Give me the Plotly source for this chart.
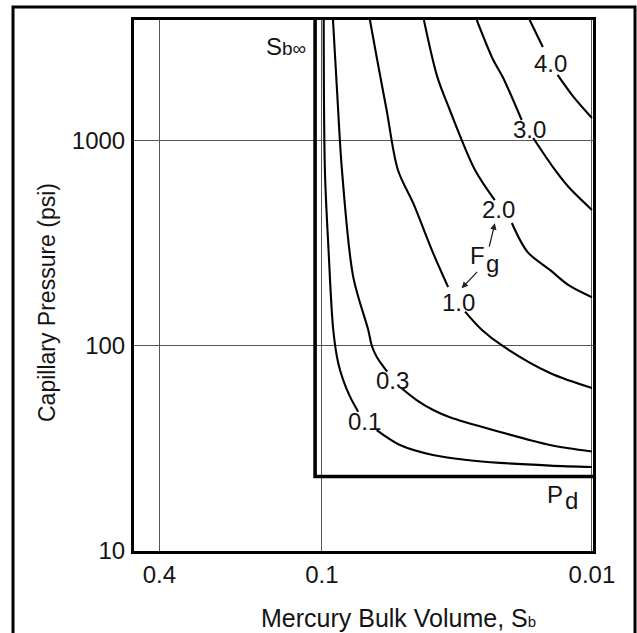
import numpy as np
import plotly.graph_objects as go

# ---- Thomeer hyperbolas: mercury bulk volume vs capillary pressure ----
SB_INF = 0.106   # asymptotic bulk volume occupied by mercury
PD = 23.1        # extrapolated displacement pressure, psi

X_TICKS = [0.4, 0.1, 0.01]
X_TICK_TEXT = ["0.4", "0.1", "0.01"]
Y_TICKS = [10, 100, 1000]
Y_TICK_TEXT = ["10", "100", "1000"]

# Curves, one per pore geometrical factor Fg (None = gap under the label)
SB_F01 = [0.0985, 0.0975, 0.0945, 0.0908, 0.0870, 0.0834, 0.0787, 0.0734, None,
          0.0627, 0.0514, 0.0388, 0.0290, 0.0219, 0.0143, 0.0100]
PC_F01 = [3890, 722, 294, 120, 82.3, 68.2, 56.6, 47.8, None,
          38.9, 32.9, 29.4, 27.8, 26.9, 26.1, 25.7]

SB_F03 = [0.0910, 0.0878, 0.0843, 0.0766, 0.0674, 0.0653, 0.0627, 0.0592, 0.0573, None,
          0.0507, 0.0446, 0.0387, 0.0336, 0.0219, 0.0143, 0.0100]
PC_F03 = [3890, 1714, 722, 218, 120, 100, 88.7, 79.3, 74.9, None,
          62.2, 54.5, 48.7, 44.9, 38.1, 32.9, 30.6]

SB_F10 = [0.0664, 0.0624, 0.0576, 0.0523, 0.0459, 0.0387, 0.0341, None,
          0.0295, 0.0256, 0.0214, 0.0143, 0.0100]
PC_F10 = [3890, 2483, 1416, 722, 497, 283, 194, None,
          147, 120, 100, 73.8, 62.4]

SB_F20 = [0.0419, 0.0374, 0.0336, 0.0271, 0.0229, None,
          0.0198, 0.0173, 0.0143, 0.0122, 0.0100]
PC_F20 = [3890, 2059, 1416, 722, 515, None,
          398, 287, 235, 198, 173]

SB_F30 = [0.0267, 0.0232, 0.0214, 0.0182, None,
          0.0165, 0.0137, 0.0122, 0.0100]
PC_F30 = [3890, 2483, 2051, 1265, None,
          1034, 722, 596, 461]

SB_F40 = [0.0170, 0.0152, None, 0.0134, 0.01172, 0.0100]
PC_F40 = [3890, 2874, None, 2099, 1644, 1294]

# Curve labels and where they sit
FG_LABELS = ["0.1", "0.3", "1.0", "2.0", "3.0", "4.0"]
LABEL_SB = [0.0693, 0.0548, 0.0311, 0.0221, 0.0170, 0.01419]
LABEL_PC = [42.6, 68.2, 163, 461, 1132, 2375]

# ---- figure geometry ----
W, H = 637, 633
ML, MR, MT, MB = 134, 44, 20, 82
PLOT_W, PLOT_H = W - ML - MR, H - MT - MB


def paper_x(px):
    return (px - ML) / PLOT_W


def paper_y(py):
    return (H - MB - py) / PLOT_H


FONT = "Liberation Sans, Arial, Helvetica, sans-serif"
TXT = "#141414"
FS = 24

fig = go.Figure()

for sb, pc in [(SB_F01, PC_F01), (SB_F03, PC_F03), (SB_F10, PC_F10),
               (SB_F20, PC_F20), (SB_F30, PC_F30), (SB_F40, PC_F40)]:
    fig.add_trace(go.Scatter(
        x=sb, y=pc, mode="lines", connectgaps=False,
        line=dict(color="black", width=2.1, shape="spline", smoothing=0.9),
        hoverinfo="skip", showlegend=False))

# asymptotes: Sb-infinity (vertical) and Pd (horizontal)
fig.add_trace(go.Scatter(
    x=[SB_INF, SB_INF, 0.009], y=[6000, PD, PD], mode="lines",
    line=dict(color="black", width=3.6),
    hoverinfo="skip", showlegend=False))

annotations = []
for txt, sb, pc in zip(FG_LABELS, LABEL_SB, LABEL_PC):
    annotations.append(dict(
        x=np.log10(sb), y=np.log10(pc), xref="x", yref="y", text=txt,
        showarrow=False, font=dict(family=FONT, size=FS, color=TXT),
        xanchor="center", yanchor="middle"))

# Fg marker with its two arrows
annotations += [
    dict(x=np.log10(0.02644), y=np.log10(275), xref="x", yref="y", text="F",
         showarrow=False, xanchor="center", yanchor="middle",
         font=dict(family=FONT, size=FS, color=TXT)),
    dict(x=np.log10(0.02325), y=np.log10(252), xref="x", yref="y", text="g",
         showarrow=False, xanchor="center", yanchor="middle",
         font=dict(family=FONT, size=FS, color=TXT)),
    dict(x=np.log10(0.02288), y=np.log10(397), xref="x", yref="y", text="",
         showarrow=True, ax=-6, ay=25, arrowhead=2, arrowsize=1,
         arrowwidth=1.3, arrowcolor="#222", standoff=0),
    dict(x=np.log10(0.03039), y=np.log10(191), xref="x", yref="y", text="",
         showarrow=True, ax=17, ay=-18, arrowhead=2, arrowsize=1,
         arrowwidth=1.3, arrowcolor="#222", standoff=0),
]

# asymptote names
annotations += [
    dict(x=np.log10(SB_INF), y=np.log10(2874), xref="x", yref="y",
         text="S<span style='font-size:19px'>b\u221e</span>", showarrow=False,
         xanchor="right", yanchor="middle", xshift=-7,
         font=dict(family=FONT, size=FS, color=TXT)),
    dict(x=np.log10(0.01365), y=np.log10(18.86), xref="x", yref="y", text="P",
         showarrow=False, xanchor="center", yanchor="middle",
         font=dict(family=FONT, size=FS, color=TXT)),
    dict(x=np.log10(0.01191), y=np.log10(17.6), xref="x", yref="y", text="d",
         showarrow=False, xanchor="center", yanchor="middle",
         font=dict(family=FONT, size=FS, color=TXT)),
]

# axis titles
annotations += [
    dict(x=paper_x(398), y=paper_y(618), xref="paper", yref="paper",
         text="Mercury Bulk Volume, S<span style='font-size:15px'>b</span>",
         showarrow=False, xanchor="center", yanchor="middle",
         font=dict(family=FONT, size=25, color=TXT)),
    dict(x=paper_x(47), y=paper_y(303), xref="paper", yref="paper",
         text="Capillary Pressure (psi)", textangle=-90,
         showarrow=False, xanchor="center", yanchor="middle",
         font=dict(family=FONT, size=23, color=TXT)),
]

# outer border around the whole graphic
shapes = [dict(type="rect", xref="paper", yref="paper",
               x0=paper_x(13), x1=paper_x(635), y0=paper_y(646), y1=paper_y(7),
               line=dict(color="black", width=3))]

axis_common = dict(
    type="log", showgrid=True, gridcolor="#555555", gridwidth=1,
    showline=True, mirror=True, linecolor="black", linewidth=3,
    ticks="", zeroline=False,
    tickfont=dict(family=FONT, size=FS, color=TXT))

fig.update_layout(
    width=W, height=H,
    margin=dict(l=ML, r=MR, t=MT, b=MB),
    paper_bgcolor="white", plot_bgcolor="white",
    showlegend=False,
    xaxis=dict(axis_common, range=[-0.304, -2.004],
               tickvals=X_TICKS, ticktext=X_TICK_TEXT, ticklabelstandoff=0),
    yaxis=dict(axis_common, range=[1.0, 3.59],
               tickvals=Y_TICKS, ticktext=Y_TICK_TEXT, ticklabelstandoff=1),
    annotations=annotations,
    shapes=shapes,
)

fig.write_html("out.html")
